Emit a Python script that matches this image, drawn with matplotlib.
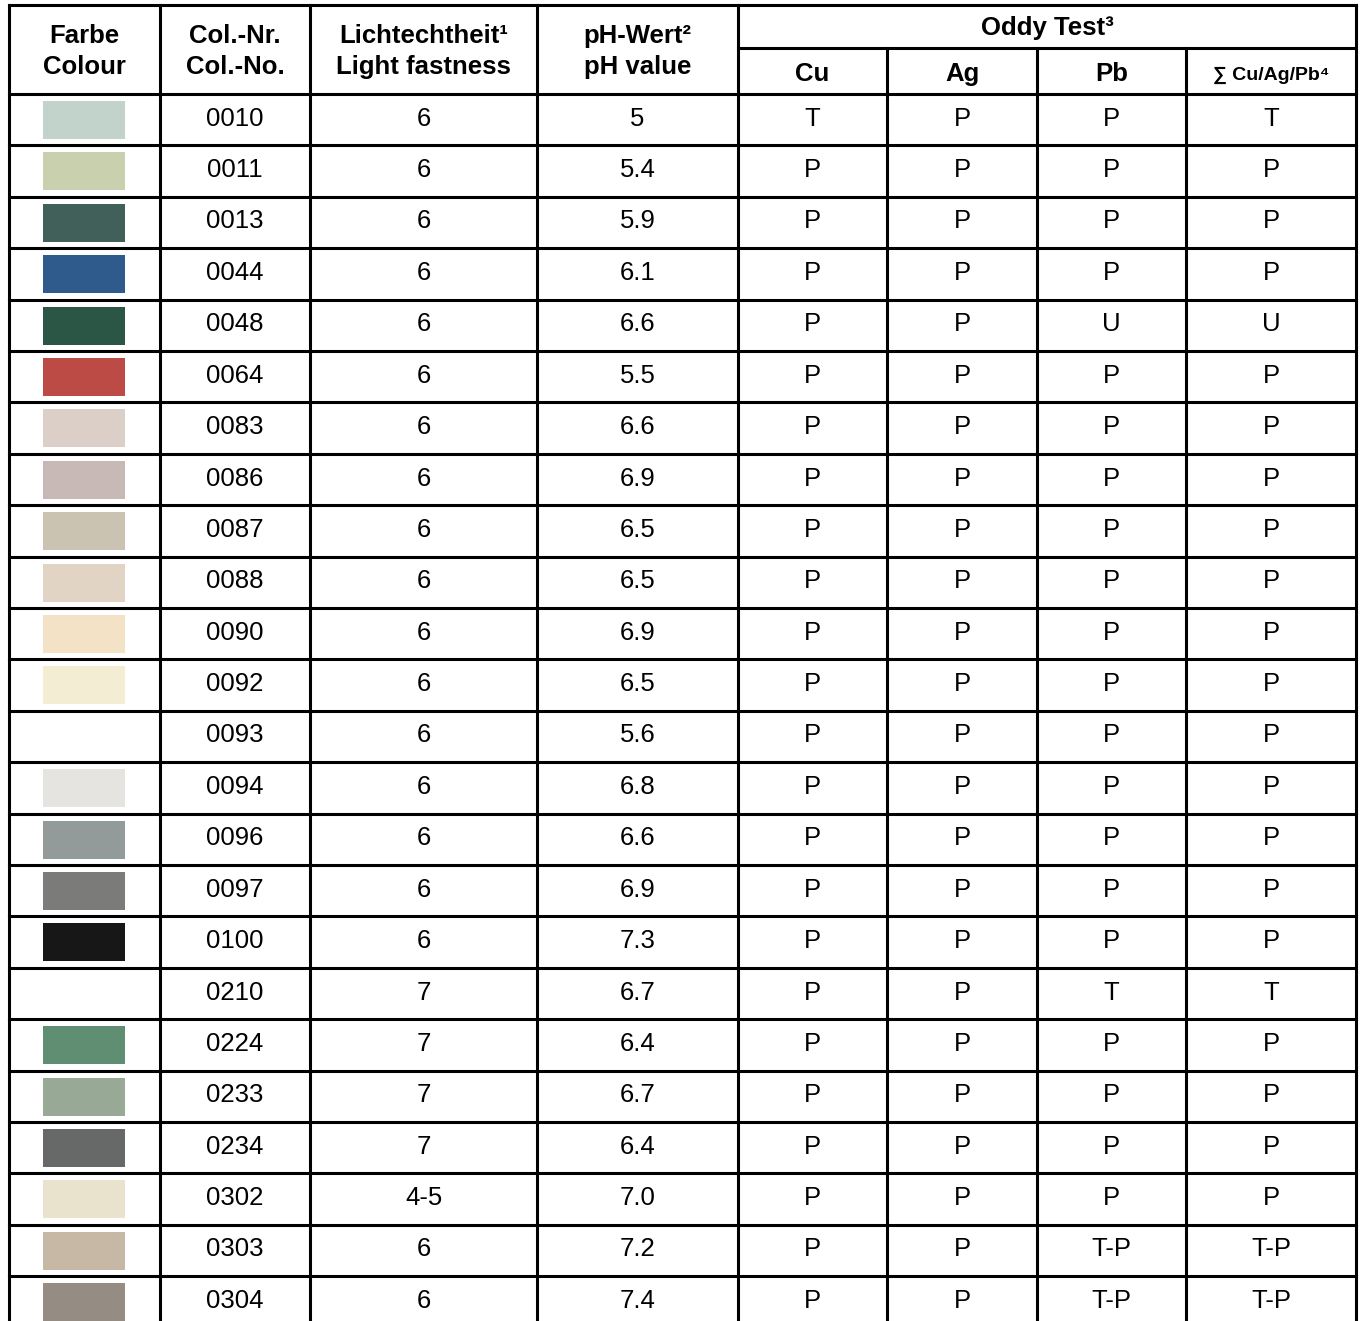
import matplotlib
matplotlib.use('Agg')
import matplotlib.pyplot as plt
from matplotlib.patches import Rectangle

plt.rcParams['font.family'] = ['Liberation Sans', 'DejaVu Sans']

# Tabellendaten
col_nr = ['0010', '0011', '0013', '0044', '0048', '0064', '0083', '0086', '0087',
          '0088', '0090', '0092', '0093', '0094', '0096', '0097', '0100', '0210',
          '0224', '0233', '0234', '0302', '0303', '0304']
swatches = ['#c2d3cc', '#c8d0ad', '#42605a', '#2e5a8c', '#2b5545', '#bd4b45',
            '#dbcfc7', '#c8b9b6', '#cbc3b1', '#e2d4c4', '#f4e2c7', '#f2edd3',
            None, '#e6e4e0', '#939b9a', '#7b7b79', '#171717', None,
            '#5f8e72', '#98aa96', '#666968', '#e9e2cd', '#c6b8a5', '#958c84']
light = ['6'] * 17 + ['7', '7', '7', '7', '4-5', '6', '6']
ph = ['5', '5.4', '5.9', '6.1', '6.6', '5.5', '6.6', '6.9', '6.5', '6.5', '6.9', '6.5',
      '5.6', '6.8', '6.6', '6.9', '7.3', '6.7', '6.4', '6.7', '6.4', '7.0', '7.2', '7.4']
cu = ['T'] + ['P'] * 23
ag = ['P'] * 24
pb = ['P', 'P', 'P', 'P', 'U', 'P', 'P', 'P', 'P', 'P', 'P', 'P',
      'P', 'P', 'P', 'P', 'P', 'T', 'P', 'P', 'P', 'P', 'T-P', 'T-P']
total = ['T', 'P', 'P', 'P', 'U', 'P', 'P', 'P', 'P', 'P', 'P', 'P',
         'P', 'P', 'P', 'P', 'P', 'T', 'P', 'P', 'P', 'P', 'T-P', 'T-P']

W, H = 1363, 1321
col_x = [9, 160, 310, 537, 738, 887, 1037, 1186, 1356]
top = 5
mid = 48
head_bottom = 94
row_h = 51.4
lw = 2.2

fig = plt.figure(figsize=(W / 100, H / 100), dpi=100)
ax = fig.add_axes([0, 0, 1, 1])
ax.set_xlim(0, W)
ax.set_ylim(H, 0)
ax.axis('off')

# Linien
ax.plot([col_x[0], col_x[-1]], [top, top], color='black', lw=lw, solid_capstyle='projecting')
ax.plot([col_x[4], col_x[-1]], [mid, mid], color='black', lw=lw)
for x in col_x:
    y0 = mid if x in col_x[5:8] else top
    ax.plot([x, x], [y0, H + 5], color='black', lw=lw, solid_capstyle='projecting')
for i in range(len(col_nr)):
    y = head_bottom + i * row_h
    ax.plot([col_x[0], col_x[-1]], [y, y], color='black', lw=lw, solid_capstyle='projecting')

centers = [(col_x[i] + col_x[i + 1]) / 2 for i in range(len(col_x) - 1)]

# Kopfzeile
hfs = 18.5
head = [('Farbe', 'Colour', 0), ('Col.-Nr.', 'Col.-No.', 1),
        ('Lichtechtheit¹', 'Light fastness', 2), ('pH-Wert²', 'pH value', 3)]
for de, en, c in head:
    ax.text(centers[c], 36, de, ha='center', va='center', fontsize=hfs, fontweight='bold')
    ax.text(centers[c], 67, en, ha='center', va='center', fontsize=hfs, fontweight='bold')
ax.text((col_x[4] + col_x[-1]) / 2, 28, 'Oddy Test³', ha='center', va='center',
        fontsize=hfs, fontweight='bold')
for txt, c in [('Cu', 4), ('Ag', 5), ('Pb', 6)]:
    ax.text(centers[c], 74, txt, ha='center', va='center', fontsize=hfs, fontweight='bold')
ax.text(centers[7], 75, '∑ Cu/Ag/Pb⁴', ha='center', va='center', fontsize=14,
        fontweight='bold')

# Zeilen
bfs = 18.5
for i, nr in enumerate(col_nr):
    y0 = head_bottom + i * row_h
    yc = y0 + row_h / 2 - 1
    if swatches[i] is not None:
        ax.add_patch(Rectangle((43, y0 + 7), 82, 38, facecolor=swatches[i],
                               edgecolor='none'))
    vals = [nr, light[i], ph[i], cu[i], ag[i], pb[i], total[i]]
    for c, v in enumerate(vals, start=1):
        ax.text(centers[c], yc, v, ha='center', va='center', fontsize=bfs)

fig.savefig('out.png', dpi=100)
